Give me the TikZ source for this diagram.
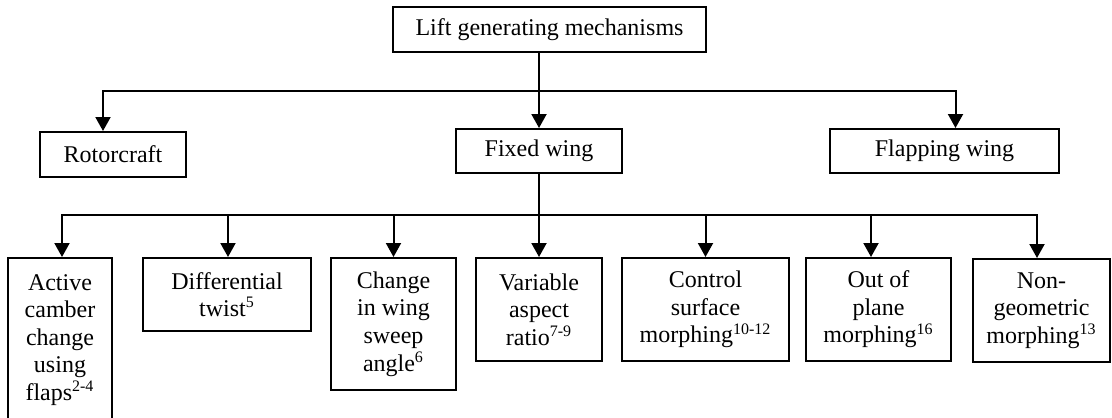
\documentclass[tikz,border=0pt]{standalone}
\usepackage{fontspec}
\setmainfont{Liberation Serif}
\usetikzlibrary{arrows.meta, positioning}

\begin{document}
\begin{tikzpicture}[x=0.5pt, y=-0.5pt,
        box/.style={rectangle, draw, line width=1pt, align=center, inner sep=2pt, font=\fontsize{12}{13.8}\selectfont},
        arrow/.style={-{Triangle[length=7pt, width=7.5pt]}, line width=1pt}]
        \useasboundingbox (0,0) rectangle (1112,417);
        \clip (0,0) rectangle (1112,417);

        \node[box, minimum width=156.5pt, minimum height=22.5pt] (lift) at (549.5,29.5) {Lift generating mechanisms};
        \node[box, minimum width=73pt, minimum height=22.5pt] (rotor) at (113,154.5) {Rotorcraft};
        \node[box, minimum width=83pt, minimum height=22pt] (fixed) at (539,151) {Fixed wing};
        \node[box, minimum width=114.5pt, minimum height=22pt] (flap) at (944.5,151) {Flapping wing};

        \node[box, anchor=north, minimum width=52pt, minimum height=82pt] (m1) at (60,257) {Active\\camber\\change\\using\\flaps\textsuperscript{2-4}};
        \node[box, anchor=north, minimum width=84pt, minimum height=36.5pt] (m2) at (227,257) {Differential\\twist\textsuperscript{5}};
        \node[box, anchor=north, minimum width=62.5pt, minimum height=66pt] (m3) at (393.5,257) {Change\\in wing\\sweep\\angle\textsuperscript{6}};
        \node[box, anchor=north, minimum width=63pt, minimum height=51.5pt] (m4) at (539,257) {Variable\\aspect\\ratio\textsuperscript{7-9}};
        \node[box, anchor=north, minimum width=83.5pt, minimum height=51.5pt] (m5) at (705.5,257) {Control\\surface\\morphing\textsuperscript{10-12}};
        \node[box, anchor=north, minimum width=72.5pt, minimum height=51.5pt] (m6) at (878.5,257) {Out of\\plane\\morphing\textsuperscript{16}};
        \node[box, anchor=north, minimum width=68.5pt, minimum height=51.5pt] (m7) at (1041.5,258) {Non-\\geometric\\morphing\textsuperscript{13}};

        \coordinate (j1) at (539,91);
        \coordinate (j2) at (539,215);

        \draw[arrow] (j1 |- lift.south) -- (fixed.north);
        \draw[arrow] (j1) -| ([xshift=-5pt]rotor.north);
        \draw[arrow] (j1) -| ([xshift=5.5pt]flap.north);
        \draw[line width=1pt] (fixed.south) -- (j2);
        \foreach \i/\dx in {1/1pt, 2/0.5pt, 3/0pt, 4/0pt, 5/0pt, 6/-3.75pt, 7/-2.25pt}
            \draw[arrow] (j2) -| ([xshift=\dx]m\i.north);
    \end{tikzpicture}
\end{document}
